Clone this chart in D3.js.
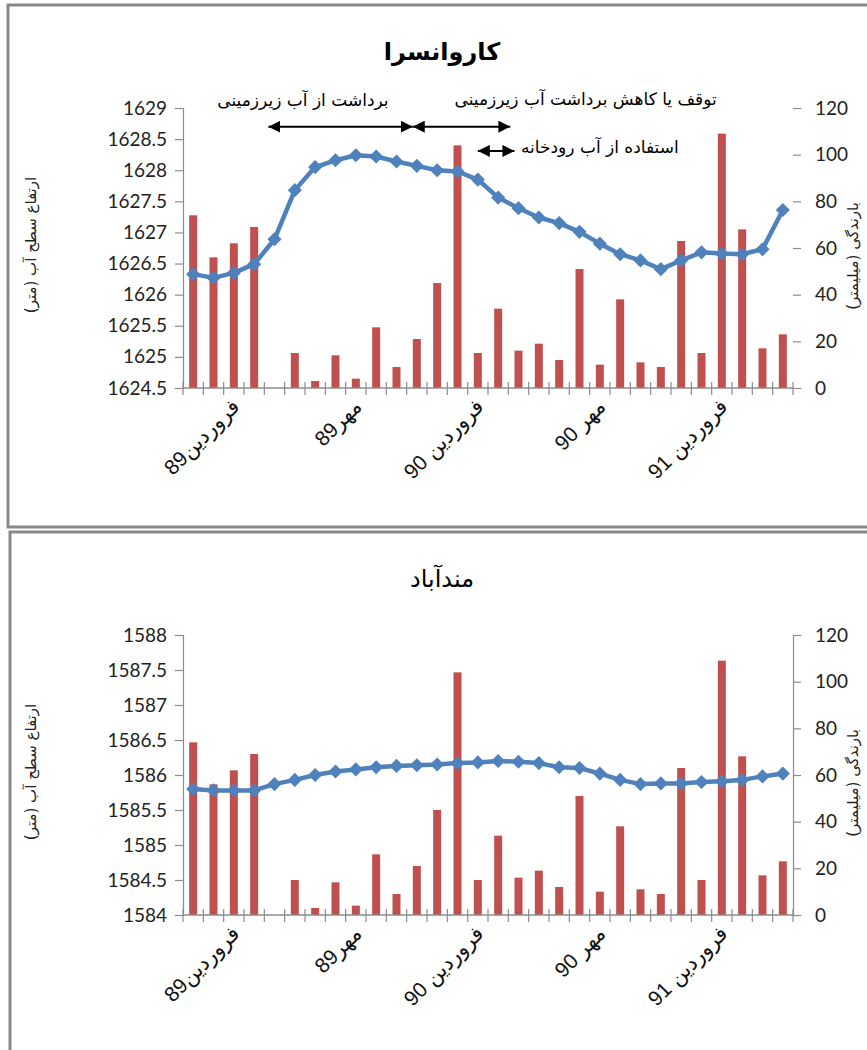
<!DOCTYPE html>
<html>
<head>
<meta charset="utf-8">
<script src="https://cdn.jsdelivr.net/npm/d3@7"></script>
<style>
  html, body { margin: 0; padding: 0; background: #fff; }
  svg { display: block; }
</style>
</head>
<body>
<svg id="chart" width="867" height="1050"></svg>
<script>
// monthly records, Bahman 88 .. Tir 91; only every sixth month is labelled
const categories = [
  "", "", "فروردین89", "", "", "", "", "", "مهر89", "",
  "", "", "", "", "فروردین 90", "", "", "", "", "",
  "مهر 90", "", "", "", "", "", "فروردین 91", "", "", ""
];

// rainfall (mm), same gauge for both wells
const rainfall = [74, 56, 62, 69, 0, 15, 3, 14, 4, 26, 9, 21, 45, 104, 15,
  34, 16, 19, 12, 51, 10, 38, 11, 9, 63, 15, 109, 68, 17, 23];

// water table elevation (m)
const levelKarvansara = [1626.33, 1626.27, 1626.35, 1626.49, 1626.89, 1627.68,
  1628.05, 1628.16, 1628.24, 1628.22, 1628.14, 1628.07, 1628.0, 1627.98, 1627.85,
  1627.56, 1627.39, 1627.24, 1627.15, 1627.01, 1626.82, 1626.65, 1626.55, 1626.41,
  1626.55, 1626.68, 1626.66, 1626.65, 1626.73, 1627.36];

const levelMandabad = [1585.8, 1585.78, 1585.78, 1585.78, 1585.87, 1585.93,
  1586.0, 1586.05, 1586.08, 1586.11, 1586.13, 1586.14, 1586.15, 1586.17, 1586.18,
  1586.2, 1586.19, 1586.17, 1586.11, 1586.1, 1586.02, 1585.93, 1585.87, 1585.88,
  1585.88, 1585.9, 1585.91, 1585.93, 1585.98, 1586.02];

const levelTicksKarvansara = [1624.5, 1625, 1625.5, 1626, 1626.5, 1627, 1627.5, 1628, 1628.5, 1629];
const levelTicksMandabad = [1584, 1584.5, 1585, 1585.5, 1586, 1586.5, 1587, 1587.5, 1588];
const rainTicks = [0, 20, 40, 60, 80, 100, 120];

// period notes on the first chart (position in month index / elevation)
const notes = [
  {text: "برداشت از آب زیرزمینی", at: 5.9, level: 1629.03, from: 4.2, to: 11.3, arrowLevel: 1628.7},
  {text: "توقف یا کاهش برداشت آب زیرزمینی", at: 19.8, level: 1629.05, from: 11.3, to: 16.1, arrowLevel: 1628.7},
  {text: "استفاده از آب رودخانه", at: 20.5, level: 1628.28, from: 14.5, to: 16.3, arrowLevel: 1628.31}
];

const panels = [
  {top: 5, left: 8, title: "کاروانسرا", titleWeight: "bold", levels: levelKarvansara,
    levelTicks: levelTicksKarvansara, rightLine: false, notes: notes},
  {top: 532, left: 10, title: "مندآباد", titleWeight: "normal", levels: levelMandabad,
    levelTicks: levelTicksMandabad, rightLine: true, notes: []}
];

const svg = d3.select("#chart");
const plotLeft = 183, plotRight = 793;
const barColor = "#C0504D", lineColor = "#4F81BD", axisColor = "#8c8c8c";
const numFont = "Lato, 'Liberation Sans', sans-serif";
const faFont = "'DejaVu Sans', sans-serif";

svg.append("defs").append("marker")
  .attr("id", "head")
  .attr("viewBox", "0 0 10 10")
  .attr("refX", 10).attr("refY", 5)
  .attr("markerWidth", 6).attr("markerHeight", 6)
  .attr("markerUnits", "strokeWidth")
  .attr("orient", "auto-start-reverse")
  .append("path")
  .attr("d", "M0,0 L10,5 L0,10 Z")
  .attr("fill", "#000");

panels.forEach(p => drawPanel(p));

function drawPanel(p) {
  const g = svg.append("g");
  const plotTop = p.top + 103, plotBottom = p.top + 383;

  g.append("rect")
    .attr("x", p.left).attr("y", p.top)
    .attr("width", 900).attr("height", 522)
    .attr("fill", "none")
    .attr("stroke", "#888").attr("stroke-width", 3);

  const xi = d3.scaleLinear().domain([0, categories.length]).range([plotLeft, plotRight]);
  const yL = d3.scaleLinear().domain(d3.extent(p.levelTicks)).range([plotBottom, plotTop]);
  const yR = d3.scaleLinear().domain(d3.extent(rainTicks)).range([plotBottom, plotTop]);

  g.append("text")
    .attr("x", 442).attr("y", p.top + 55)
    .attr("text-anchor", "middle")
    .attr("font-family", faFont).attr("font-size", 24)
    .attr("font-weight", p.titleWeight)
    .text(p.title);

  // bars
  g.selectAll(".bar").data(rainfall).join("rect")
    .attr("class", "bar")
    .attr("x", (d, i) => xi(i + 0.5) - 4)
    .attr("width", 8)
    .attr("y", d => yR(d))
    .attr("height", d => yR(0) - yR(d))
    .attr("fill", barColor);

  // left axis
  const ax = g.append("g").attr("transform", `translate(${plotLeft},0)`)
    .call(d3.axisLeft(yL).tickValues(p.levelTicks).tickSize(8).tickPadding(8).tickFormat(d => d));
  styleAxis(ax);

  // right axis
  const ar = g.append("g").attr("transform", `translate(${plotRight},0)`)
    .call(d3.axisRight(yR).tickValues(rainTicks).tickSize(8).tickPadding(14).tickSizeOuter(0));
  styleAxis(ar);
  if (!p.rightLine) ar.select(".domain").remove();

  // category axis with cross ticks on month boundaries
  const xa = g.append("g");
  xa.append("line")
    .attr("x1", plotLeft).attr("x2", plotRight)
    .attr("y1", plotBottom).attr("y2", plotBottom)
    .attr("stroke", axisColor).attr("stroke-width", 1.5);
  xa.selectAll(".tk").data(d3.range(categories.length + 1)).join("line")
    .attr("x1", d => xi(d)).attr("x2", d => xi(d))
    .attr("y1", plotBottom - 6).attr("y2", plotBottom + 7)
    .attr("stroke", axisColor).attr("stroke-width", 1.2);
  xa.selectAll(".lab").data(categories.map((c, i) => ({c, i})).filter(d => d.c))
    .join("text")
    .attr("transform", d => `translate(${xi(d.i + 0.5) + 7},${plotBottom + 20}) rotate(-45)`)
    .attr("text-anchor", "end")
    .attr("font-family", "'Liberation Sans', 'DejaVu Sans', sans-serif")
    .attr("font-size", 21)
    .attr("fill", "#111")
    .text(d => d.c);

  // water level line
  const line = d3.line().x((d, i) => xi(i + 0.5)).y(d => yL(d));
  g.append("path").datum(p.levels)
    .attr("d", line)
    .attr("fill", "none")
    .attr("stroke", lineColor).attr("stroke-width", 4.5)
    .attr("stroke-linejoin", "round");
  g.selectAll(".mk").data(p.levels).join("path")
    .attr("d", d3.symbol(d3.symbolSquare, 100))
    .attr("transform", (d, i) => `translate(${xi(i + 0.5)},${yL(d)}) rotate(45)`)
    .attr("fill", lineColor);

  // axis titles
  const midY = (plotTop + plotBottom) / 2;
  g.append("text")
    .attr("transform", `translate(36,${midY - 3}) rotate(-90)`)
    .attr("text-anchor", "middle")
    .attr("font-family", faFont).attr("font-size", 15).attr("fill", "#222")
    .text("ارتفاع سطح آب (متر)");
  g.append("text")
    .attr("transform", `translate(858,${midY + 8}) rotate(-90)`)
    .attr("text-anchor", "middle")
    .attr("font-family", faFont).attr("font-size", 15).attr("fill", "#222")
    .text("بارندگی (میلیمتر)");

  // period notes with double arrows
  p.notes.forEach(n => {
    g.append("line")
      .attr("x1", xi(n.from)).attr("x2", xi(n.to))
      .attr("y1", yL(n.arrowLevel)).attr("y2", yL(n.arrowLevel))
      .attr("stroke", "#000").attr("stroke-width", 2)
      .attr("marker-start", "url(#head)").attr("marker-end", "url(#head)");
    g.append("text")
      .attr("x", xi(n.at)).attr("y", yL(n.level))
      .attr("text-anchor", "middle")
      .attr("font-family", faFont).attr("font-size", 17).attr("fill", "#000")
      .text(n.text);
  });
}

function styleAxis(a) {
  a.selectAll("path, line").attr("stroke", axisColor).attr("stroke-width", 1.2);
  a.selectAll("text")
    .attr("font-family", numFont).attr("font-size", 19).attr("fill", "#222");
}
</script>
</body>
</html>
